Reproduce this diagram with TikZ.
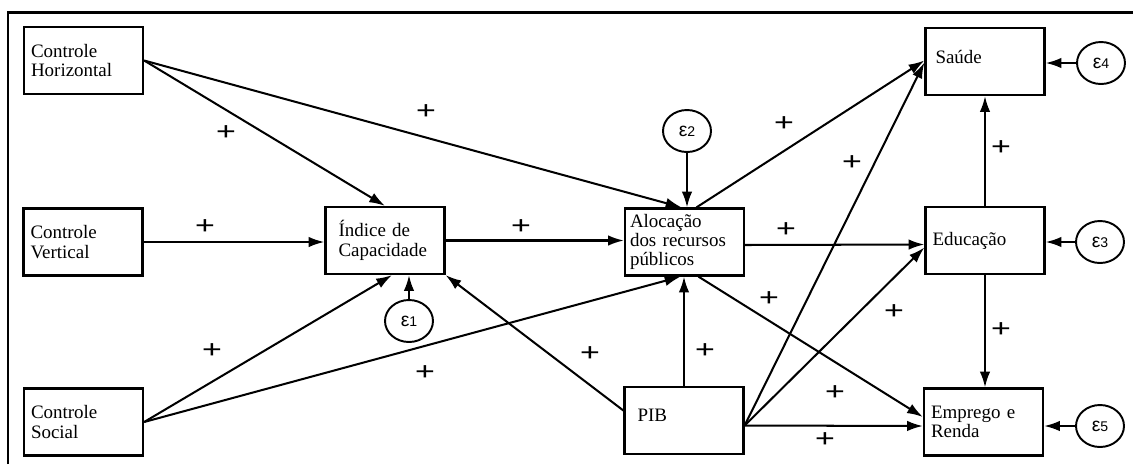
\documentclass[tikz,border=0pt]{standalone}
\usepackage{fontspec}
\usepackage{graphicx}
\setmainfont{Liberation Serif}
\newfontfamily\epsfont{Liberation Sans}
\usetikzlibrary{arrows.meta, shapes.geometric, calc}

\tikzset{
    box/.style = {rectangle, draw = black, line width = 1.3pt, minimum height = 1.34cm, inner xsep = 0.14cm, inner ysep = 2pt, text width = 2.1cm, align = left, font = \fontsize{10.8}{11}\selectfont},
    err/.style = {ellipse, draw = black, line width = 1.1pt, minimum width = 0.96cm, minimum height = 0.84cm, inner sep = 0pt, font = \epsfont\fontsize{11}{11}\selectfont},
    arr/.style = {line width = 1.15pt, -{Latex[length = 9pt, width = 6pt]}},
    sign/.style = {inner sep = 0pt, font = \bfseries\fontsize{15}{15}\selectfont}
}

\begin{document}
\begin{tikzpicture}[x = 0.02cm, y = -0.02cm]
    \useasboundingbox (0, 0) rectangle (1133, 464);
    \draw[line width = 1.3pt] (8, 464) |- (1133, 12.5);
    % variables
    \node[box] (ch) at (83.5, 60.5) {Controle\\Horizontal};
    \node[box] (cv) at (83, 242) {Controle\\Vertical};
    \node[box] (cs) at (83.5, 422) {Controle\\Social};
    \node[box, inner xsep = 0.26cm, text width = 1.86cm] (idx) at (385, 240.5) {Índice de\\Capacidade};
    \node[box, inner xsep = 0.1cm, text width = 2.18cm] (aloc) at (684.5, 242) {Alocação\\dos recursos\\públicos};
    \node[box, inner xsep = 0.26cm, text width = 1.86cm, text depth = 5.5pt] (pib) at (684, 420.5) {PIB};
    \node[box, inner xsep = 0.2cm, text width = 1.98cm, text depth = 5pt] (sau) at (985, 61.5) {Saúde};
    \node[box] (edu) at (985, 240.5) {Educação};
    \node[box] (emp) at (983.5, 422) {Emprego e\\Renda};
    % error terms
    \node[err] (e1) at (409, 321) {ε{\fontsize{8}{8}\selectfont 1}};
    \node[err] (e2) at (687, 131) {ε{\fontsize{8}{8}\selectfont 2}};
    \node[err] (e3) at (1100, 242) {ε{\fontsize{8}{8}\selectfont 3}};
    \node[err] (e4) at (1101, 63) {ε{\fontsize{8}{8}\selectfont 4}};
    \node[err] (e5) at (1100, 426) {ε{\fontsize{8}{8}\selectfont 5}};
    % paths
    \coordinate (pibout) at ($(pib.east) + (0, 5)$);
    \draw[arr] (ch.east) -- (idx.north);
    \draw[arr] (ch.east) -- ($(aloc.north) + (-3, 0)$);
    \draw[arr] (cv.east) -- (cv.east -| idx.west);
    \draw[arr] (cs.east) -- ($(idx.south) + (7, 0)$);
    \draw[arr] (cs.east) -- ($(aloc.south) + (-4, 0)$);
    \draw[arr] (idx.east) -- (idx.east -| aloc.west);
    \draw[arr] ($(pib.west) + (0, -10)$) -- (idx.south east);
    \draw[arr] (pib.north) -- (pib.north |- aloc.south);
    \draw[arr] ($(aloc.north) + (12, 0)$) -- ($(sau.west) + (0, -1)$);
    \draw[arr] ($(aloc.east) + (0, 3)$) -- ($(edu.west) + (0, 4)$);
    \draw[arr] ($(aloc.south) + (14, 0)$) -- ($(emp.west) + (0, -5)$);
    \draw[arr] (pibout) -- ($(sau.west) + (0, 1)$);
    \draw[arr] (pibout) -- ($(edu.west) + (0, 7)$);
    \draw[arr] (pibout) -- ($(emp.west) + (0, 4)$);
    \draw[arr] (edu.north) -- (sau.south);
    \draw[arr] (edu.south) -- (edu.south |- emp.north);
    \draw[arr] (e1.north) -- (e1.north |- idx.south);
    \draw[arr] (e2.south) -- (e2.south |- aloc.north);
    \draw[arr] (e3.west) -- (e3.west -| edu.east);
    \draw[arr] (e4.west) -- (e4.west -| sau.east);
    \draw[arr] (e5.west) -- (e5.west -| emp.east);
    % signs
    \foreach \x/\y [count = \i] in {226/133, 426/112, 205/227, 521/227, 212/351, 425/373, 590/354, 705/351, 784/124, 852/163, 786/230, 769/299, 894/312, 835/393, 825/440, 1001/148, 1001/330}{
        \node[sign] (plus\i) at (\x, \y) {\scalebox{1.35}[1]{+}};
    }
\end{tikzpicture}
\end{document}
